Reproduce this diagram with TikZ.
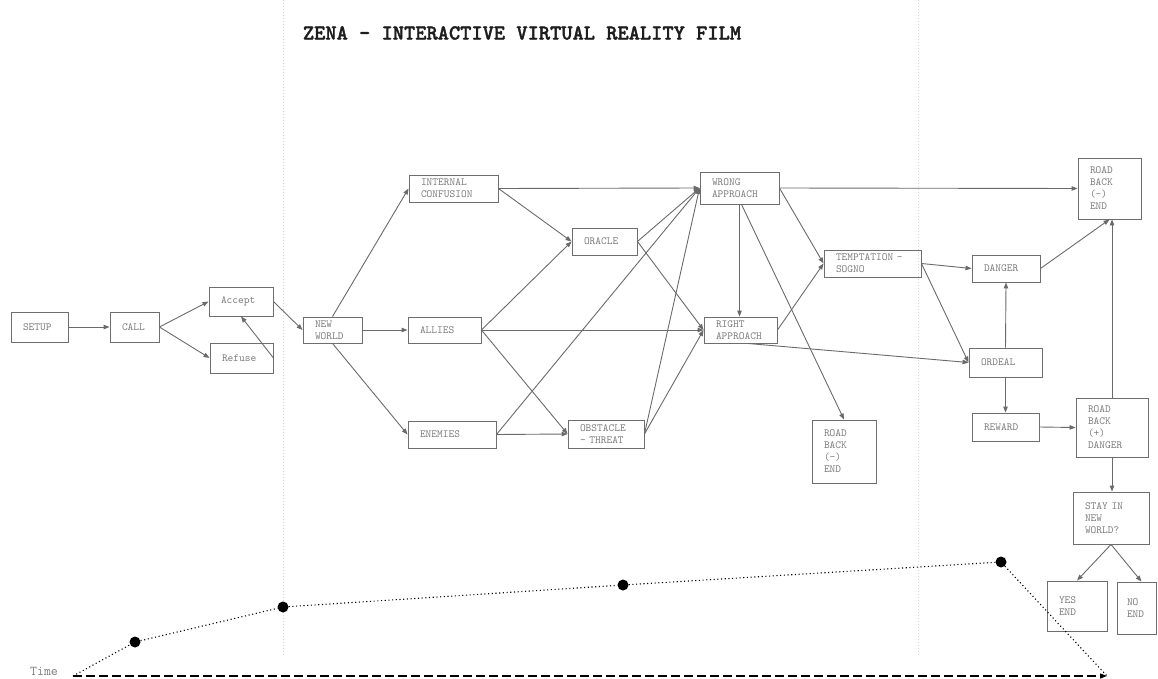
\documentclass[tikz,border=0pt]{standalone}
\usepackage{fontspec}
\newfontfamily\monoregular{Latin Modern Mono}
\newfontfamily\monobold{lmmonolt10-bold.otf}[FakeBold=1.6]
\usetikzlibrary{arrows.meta,calc}
\definecolor{boxline}{HTML}{6E6E6E}
\definecolor{boxtext}{HTML}{7C7C7C}
\definecolor{edgeline}{HTML}{6A6A6A}
\definecolor{guide}{HTML}{D8D8D8}
\definecolor{titleink}{HTML}{1E1E1E}
\newcommand\boxfont{\monoregular\fontsize{10.9}{12}\selectfont}
\begin{document}
\begin{tikzpicture}[x=1pt,y=-1pt,
  bx/.style n args={3}{draw=boxline, line width=0.9pt, text=boxtext, font=\boxfont,
    align=left, inner xsep=12pt, inner ysep=1pt,
    minimum width=#1, minimum height=#2, text width=#3},
  link/.style={draw=edgeline, line width=0.9pt, -{Triangle[length=6pt,width=4.5pt]}},
  dot/.style={circle, fill=black, inner sep=0pt, minimum size=11pt},
  timeaxis/.style={draw=black, line width=1.2pt, dash pattern=on 9pt off 4pt,
    -{Triangle[length=7pt,width=5pt]}},
  timepath/.style={draw=black, line width=1.1pt, dash pattern=on 1.1pt off 2.6pt},
  guideline/.style={draw=guide, line width=0.8pt, dash pattern=on 1pt off 2pt}]

\useasboundingbox (0,0) rectangle (1158,679);

% act separators
\draw[guideline] (283,0) -- (283,655);
\draw[guideline] (918,0) -- (918,655);

% title
\node[text=titleink, font=\monobold\fontsize{21.4}{24}\selectfont] (title) at (522,33)
  {ZENA - INTERACTIVE VIRTUAL REALITY FILM};

% story beats
\node[bx={57pt}{30pt}{33pt}] (setup)    at (39.5,327)   {SETUP};
\node[bx={49pt}{30pt}{25pt}] (call)     at (134.5,327)  {CALL};
\node[bx={64pt}{29pt}{40pt}] (accept)   at (241,301.5)  {Accept};
\node[bx={63pt}{30pt}{39pt}] (refuse)   at (241.5,358)  {Refuse};
\node[bx={59pt}{26pt}{35pt}] (newworld) at (332.5,330)  {NEW\\WORLD};
\node[bx={89pt}{27pt}{65pt}] (internal) at (453.5,188.5){INTERNAL\\CONFUSION};
\node[bx={73pt}{26pt}{49pt}] (allies)   at (444.5,330)  {ALLIES};
\node[bx={88pt}{27pt}{64pt}] (enemies)  at (452,434.5)  {ENEMIES};
\node[bx={65pt}{27pt}{41pt}] (oracle)   at (604.5,241.5){ORACLE};
\node[bx={76pt}{28pt}{52pt}] (obstacle) at (606,434)    {OBSTACLE\\- THREAT};
\node[bx={79pt}{32pt}{55pt}] (wrong)    at (739.5,188)  {WRONG\\APPROACH};
\node[bx={73pt}{26pt}{49pt}] (right)    at (740.5,330)  {RIGHT\\APPROACH};
\node[bx={64pt}{63pt}{40pt}] (rbmid)    at (844,451.5)  {ROAD\\BACK\\(-)\\END};
\node[bx={97pt}{27pt}{73pt}] (tempt)    at (872.5,263.5){TEMPTATION -\\SOGNO};
\node[bx={68pt}{27pt}{44pt}] (danger)   at (1006,268.5) {DANGER};
\node[bx={63pt}{61pt}{39pt}] (rbtop)    at (1109.5,188.5){ROAD\\BACK\\(-)\\END};
\node[bx={73pt}{29pt}{49pt}] (ordeal)   at (1005.5,362.5){ORDEAL};
\node[bx={67pt}{28pt}{43pt}] (reward)   at (1005.5,427) {REWARD};
\node[bx={72pt}{59pt}{48pt}] (rbplus)   at (1112,427.5) {ROAD\\BACK\\(+)\\DANGER};
\node[bx={76pt}{52pt}{52pt}] (stay)     at (1111,518)   {STAY IN\\NEW\\WORLD?};
\node[bx={60pt}{50pt}{36pt}] (yes)      at (1077,606)   {YES\\END};
\node[bx={39pt}{52pt}{19pt}, inner xsep=10pt] (no) at (1136.5,608) {NO\\END};

% transitions
\draw[link] (setup.east) -- (call.west);
\draw[link] (call.east) -- (accept.west);
\draw[link] (call.east) -- (refuse.west);
\draw[link] (refuse.east) -- (accept.south);
\draw[link] (accept.east) -- (newworld.west);
\draw[link] (newworld.north) -- (internal.west);
\draw[link] (newworld.east) -- (allies.west);
\draw[link] (newworld.south) -- (enemies.west);
\draw[link] (internal.east) -- (oracle.west);
\draw[link] (internal.east) -- (wrong.west);
\draw[link] (allies.east) -- (oracle.west);
\draw[link] (allies.east) -- (right.west);
\draw[link] (allies.east) -- (obstacle.west);
\draw[link] (enemies.east) -- (obstacle.west);
\draw[link] (enemies.east) -- (wrong.west);
\draw[link] (oracle.east) -- (wrong.west);
\draw[link] (oracle.east) -- (right.west);
\draw[link] (obstacle.east) -- (wrong.west);
\draw[link] (obstacle.east) -- (right.west);
\draw[link] (wrong.south) -- (wrong.south |- right.north);
\draw[link] ($(wrong.south)+(2,0)$) -- (rbmid.north);
\draw[link] (wrong.east) -- (tempt.west);
\draw[link] (wrong.east) -- (rbtop.west);
\draw[link] (right.east) -- (tempt.west);
\draw[link] ($(right.south)+(7,0)$) -- (ordeal.west);
\draw[link] (tempt.east) -- (danger.west);
\draw[link] (tempt.east) -- (ordeal.west);
\draw[link] (ordeal.north) -- (danger.south);
\draw[link] (danger.east) -- (rbtop.south);
\draw[link] (ordeal.south) -- (reward.north);
\draw[link] (reward.east) -- (rbplus.west);
\draw[link] (rbplus.north) -- (rbplus.north |- rbtop.south);
\draw[link] (rbplus.south) -- (rbplus.south |- stay.north);
\draw[link] (stay.south) -- (yes.north);
\draw[link] (stay.south) -- ($(no.north)+(5,0)$);

% time line
\node[text=boxtext, font=\monoregular\fontsize{13.5}{15}\selectfont] (timelabel) at (44,671) {Time};
\coordinate (t0) at (73,676);
\coordinate (tend) at (1107,676);
\node[dot] (d1) at (135,642) {};
\node[dot] (d2) at (283,607) {};
\node[dot] (d3) at (623,585) {};
\node[dot] (d4) at (1001,562) {};
\draw[timeaxis] (t0) -- (tend);
\draw[timepath] (t0) -- (d1) -- (d2) -- (d3) -- (d4) -- (tend);
\end{tikzpicture}
\end{document}
